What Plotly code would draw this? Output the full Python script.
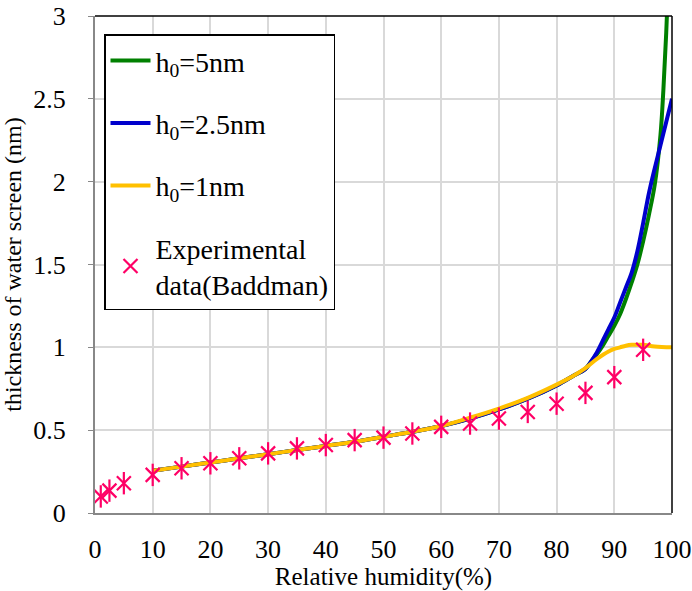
import plotly.graph_objects as go

# Experimental data (Baddman)
exp_rh = [1, 2.5, 5, 10, 15, 20, 25, 30, 35, 40, 45, 50, 55, 60, 65, 70, 75, 80, 85, 90, 95]
exp_h = [0.10, 0.135, 0.18, 0.23, 0.27, 0.30, 0.33, 0.36, 0.39, 0.41, 0.44, 0.455, 0.48, 0.52, 0.54, 0.57, 0.61, 0.66, 0.725, 0.82, 0.985]

# h0 = 1 nm
rh_1 = [10, 15, 20, 25, 30, 35, 40, 45, 50, 55, 60, 65, 70, 75, 80, 83, 85, 87, 89, 90, 91, 92, 93, 95, 97, 100]
h_1 = [0.255, 0.28, 0.305, 0.33, 0.355, 0.38, 0.405, 0.43, 0.46, 0.49, 0.525, 0.575, 0.63, 0.695, 0.775, 0.83, 0.875, 0.93, 0.975, 0.99, 1.0, 1.01, 1.015, 1.015, 1.005, 1.0]

# h0 = 2.5 nm
rh_25 = [10, 15, 20, 25, 30, 35, 40, 45, 50, 55, 60, 65, 70, 75, 80, 83, 85, 86, 87, 88, 89, 90, 91, 92, 93, 94, 95, 96, 97, 98, 99, 100]
h_25 = [0.255, 0.28, 0.305, 0.33, 0.355, 0.38, 0.405, 0.43, 0.46, 0.49, 0.525, 0.57, 0.625, 0.69, 0.77, 0.83, 0.87, 0.915, 0.97, 1.04, 1.11, 1.18, 1.27, 1.36, 1.45, 1.58, 1.75, 1.93, 2.08, 2.22, 2.36, 2.5]

# h0 = 5 nm
rh_5 = [10, 15, 20, 25, 30, 35, 40, 45, 50, 55, 60, 65, 70, 75, 80, 83, 85, 86, 87, 88, 89, 90, 91, 92, 93, 94, 95, 96, 97, 98, 98.5, 99, 99.5]
h_5 = [0.255, 0.28, 0.305, 0.33, 0.355, 0.38, 0.405, 0.43, 0.46, 0.49, 0.525, 0.57, 0.625, 0.69, 0.77, 0.83, 0.87, 0.915, 0.96, 1.01, 1.07, 1.13, 1.2, 1.29, 1.39, 1.5, 1.64, 1.8, 1.98, 2.28, 2.55, 2.9, 3.4]

x_ticks = [0, 10, 20, 30, 40, 50, 60, 70, 80, 90, 100]
y_ticks = [0, 0.5, 1, 1.5, 2, 2.5, 3]
y_tick_text = ["0", "0.5", "1", "1.5", "2", "2.5", "3"]

FONT = "Liberation Serif"
GREEN = "#008000"
BLUE = "#0000CC"
YELLOW = "#FFC000"
PINK = "#FF0066"

fig = go.Figure()
fig.add_trace(go.Scatter(x=rh_5, y=h_5, mode="lines", name="h<sub>0</sub>=5nm",
                         line=dict(color=GREEN, width=4, shape="spline"), legendgroup="a"))
fig.add_trace(go.Scatter(x=rh_25, y=h_25, mode="lines", name="h<sub>0</sub>=2.5nm",
                         line=dict(color=BLUE, width=4, shape="spline"), legendgroup="b"))
fig.add_trace(go.Scatter(x=rh_1, y=h_1, mode="lines", name="h<sub>0</sub>=1nm",
                         line=dict(color=YELLOW, width=4, shape="spline"), legendgroup="c"))
fig.add_trace(go.Scatter(x=exp_rh, y=exp_h, mode="markers", name="Experimental<br>data(Baddman)",
                         marker=dict(symbol="x-thin-open", size=14, line=dict(color=PINK, width=2.2), color=PINK),
                         legendgroup="d"))
fig.add_trace(go.Scatter(x=exp_rh, y=exp_h, mode="markers", showlegend=False,
                         marker=dict(symbol="line-ns-open", size=16, line=dict(color=PINK, width=2.2), color=PINK),
                         legendgroup="d"))

fig.update_layout(
    width=692, height=591,
    margin=dict(l=95, r=20, t=16, b=78, autoexpand=False),
    paper_bgcolor="white", plot_bgcolor="white",
    font=dict(family=FONT, size=25, color="black"),
    showlegend=True,
    legend=dict(x=0.0156, y=0.963, xanchor="left", yanchor="top",
                bordercolor="black", borderwidth=1.5, bgcolor="white",
                font=dict(family=FONT, size=28, color="black"),
                tracegroupgap=23, itemwidth=40),
    xaxis=dict(range=[0, 100], tickvals=x_ticks, showgrid=True, gridcolor="#d9d9d9", gridwidth=1.5,
               showline=True, linecolor="#888888", linewidth=2, ticks="", zeroline=False,
               ticklabelstandoff=12, automargin=False,
               title=dict(text="Relative humidity(%)", font=dict(family=FONT, size=25), standoff=12),
               tickfont=dict(family=FONT, size=26)),
    yaxis=dict(range=[0, 3], tickvals=y_ticks, ticktext=y_tick_text, showgrid=True, gridcolor="#d9d9d9",
               gridwidth=1.5, showline=True, linecolor="#888888", linewidth=2,
               ticks="outside", ticklen=5, tickcolor="#888888", zeroline=False,
               ticklabelstandoff=17, automargin=False,
               title=dict(text="thickness of water screen (nm)", font=dict(family=FONT, size=24), standoff=6),
               tickfont=dict(family=FONT, size=26)),
    shapes=[
        dict(type="line", xref="paper", yref="paper", x0=0, x1=1, y0=1, y1=1,
             line=dict(color="black", width=1.5)),
        dict(type="line", xref="paper", yref="paper", x0=1, x1=1, y0=0, y1=1,
             line=dict(color="black", width=1.5)),
    ],
)

fig.write_html("out.html")
